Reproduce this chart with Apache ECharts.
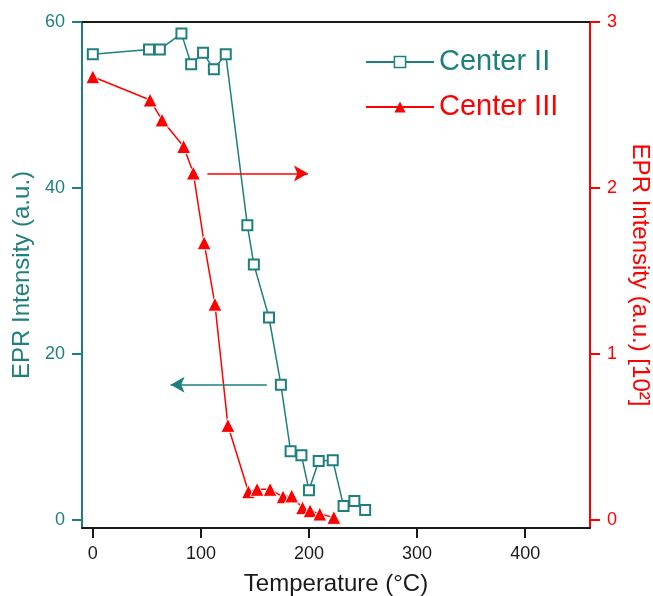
<!DOCTYPE html>
<html><head><meta charset="utf-8">
<script src="https://cdn.jsdelivr.net/npm/echarts@6/dist/echarts.min.js"></script>
<style>html,body{margin:0;padding:0;background:#fff}#c{width:653px;height:596px}</style>
</head><body><div id="c"></div>
<script>
// ---- data ----
const tempII = [0, 52, 62, 82, 91, 102, 112, 123, 143, 149, 163, 174, 183, 193, 200, 209, 222, 232, 242, 252];
const centerII = [56.1, 56.7, 56.7, 58.6, 54.9, 56.3, 54.3, 56.1, 35.5, 30.8, 24.4, 16.3, 8.3, 7.8, 3.6, 7.1, 7.2, 1.7, 2.3, 1.2];
const tempIII = [0, 53, 64, 84, 93, 103, 113, 125, 144, 152, 164, 176, 184, 194, 201, 210, 223];
const centerIII = [2.67, 2.53, 2.41, 2.25, 2.09, 1.67, 1.30, 0.57, 0.17, 0.185, 0.185, 0.14, 0.145, 0.074, 0.056, 0.036, 0.016];
const xTicks = [0, 100, 200, 300, 400];
const yLeftTicks = [0, 20, 40, 60];
const yRightTicks = [0, 1, 2, 3];
// annotation arrows (data coordinates): start -> end
const arrowII = [[161, 16.3], [72, 16.3]];
const arrowIII = [[106, 2.088], [199, 2.088]];

const teal = '#1e7f7f';
const red = '#ff0000';
const black = '#1a1a1a';
const font = '"Liberation Sans", Arial, sans-serif';

const chart = echarts.init(document.getElementById('c'), null, {renderer: 'canvas'});
const option = {
  animation: false,
  grid: {left: 82, right: 63, top: 22, bottom: 68, containLabel: false, outerBoundsMode: 'none'},
  legend: {
    orient: 'vertical', left: 360, top: 41,
    itemWidth: 68, itemHeight: 14, itemGap: 13,
    textStyle: {fontSize: 29, fontFamily: font, lineHeight: 32},
    data: [
      {name: 'Center II', textStyle: {color: teal}, itemStyle: {borderWidth: 1.5}},
      {name: 'Center III', textStyle: {color: red}, itemStyle: {borderWidth: 0}}
    ]
  },
  xAxis: [{
    type: 'value', min: -10, max: 460, position: 'bottom',
    axisLine: {onZero: false, lineStyle: {color: black, width: 2}},
    axisTick: {length: 10, customValues: xTicks, lineStyle: {color: black, width: 2}},
    axisLabel: {customValues: xTicks, margin: 17, fontSize: 18, color: black, fontFamily: font},
    splitLine: {show: false},
    name: 'Temperature (°C)', nameLocation: 'middle', nameGap: 44,
    nameTextStyle: {fontSize: 24, color: black, fontFamily: font}
  }, {
    type: 'value', min: -10, max: 460, position: 'top',
    axisLine: {onZero: false, lineStyle: {color: black, width: 2}},
    axisTick: {show: false}, axisLabel: {show: false}, splitLine: {show: false}
  }],
  yAxis: [{
    type: 'value', min: -0.96, max: 60, position: 'left',
    axisLine: {onZero: false, lineStyle: {color: teal, width: 2}},
    axisTick: {length: 10, customValues: yLeftTicks, lineStyle: {color: teal, width: 2}},
    axisLabel: {customValues: yLeftTicks, margin: 17, fontSize: 18, color: teal, fontFamily: font},
    splitLine: {show: false},
    name: 'EPR Intensity (a.u.)', nameLocation: 'middle', nameGap: 48, nameRotate: 90,
    nameTextStyle: {fontSize: 24, color: teal, fontFamily: font}
  }, {
    type: 'value', min: -0.048, max: 3, position: 'right',
    axisLine: {onZero: false, lineStyle: {color: red, width: 2}},
    axisTick: {length: 10, customValues: yRightTicks, lineStyle: {color: red, width: 2}},
    axisLabel: {customValues: yRightTicks, margin: 17, fontSize: 18, color: red, fontFamily: font},
    splitLine: {show: false},
    name: 'EPR Intensity (a.u.) [10²]', nameLocation: 'middle', nameGap: 35, nameRotate: -90,
    nameTextStyle: {fontSize: 24, color: red, fontFamily: font}
  }],
  series: [{
    type: 'line', name: 'Center II', xAxisIndex: 0, yAxisIndex: 0,
    data: tempII.map((t, i) => [t, centerII[i]]),
    symbol: 'rect', symbolSize: 10, showAllSymbol: true, z: 3,
    itemStyle: {color: '#fff', borderColor: teal, borderWidth: 2},
    lineStyle: {color: teal, width: 1.5},
    emphasis: {disabled: true},
    markLine: {
      silent: true, symbol: ['none', 'arrow'], symbolSize: [12, 14],
      label: {show: false}, emphasis: {disabled: true},
      lineStyle: {color: teal, width: 1.5, type: 'solid'},
      data: [[{coord: arrowII[0]}, {coord: arrowII[1]}]]
    }
  }, {
    type: 'line', name: 'Center III', xAxisIndex: 0, yAxisIndex: 1,
    data: tempIII.map((t, i) => [t, centerIII[i]]),
    symbol: 'triangle', symbolSize: 14, showAllSymbol: true, z: 2,
    itemStyle: {color: red, borderColor: '#fff', borderWidth: 1},
    lineStyle: {color: red, width: 1.5},
    emphasis: {disabled: true},
    markLine: {
      silent: true, symbol: ['none', 'arrow'], symbolSize: [12, 14],
      label: {show: false}, emphasis: {disabled: true},
      lineStyle: {color: red, width: 1.5, type: 'solid'},
      data: [[{coord: arrowIII[0]}, {coord: arrowIII[1]}]]
    }
  }]
};
chart.setOption(option);
</script>
</body></html>
